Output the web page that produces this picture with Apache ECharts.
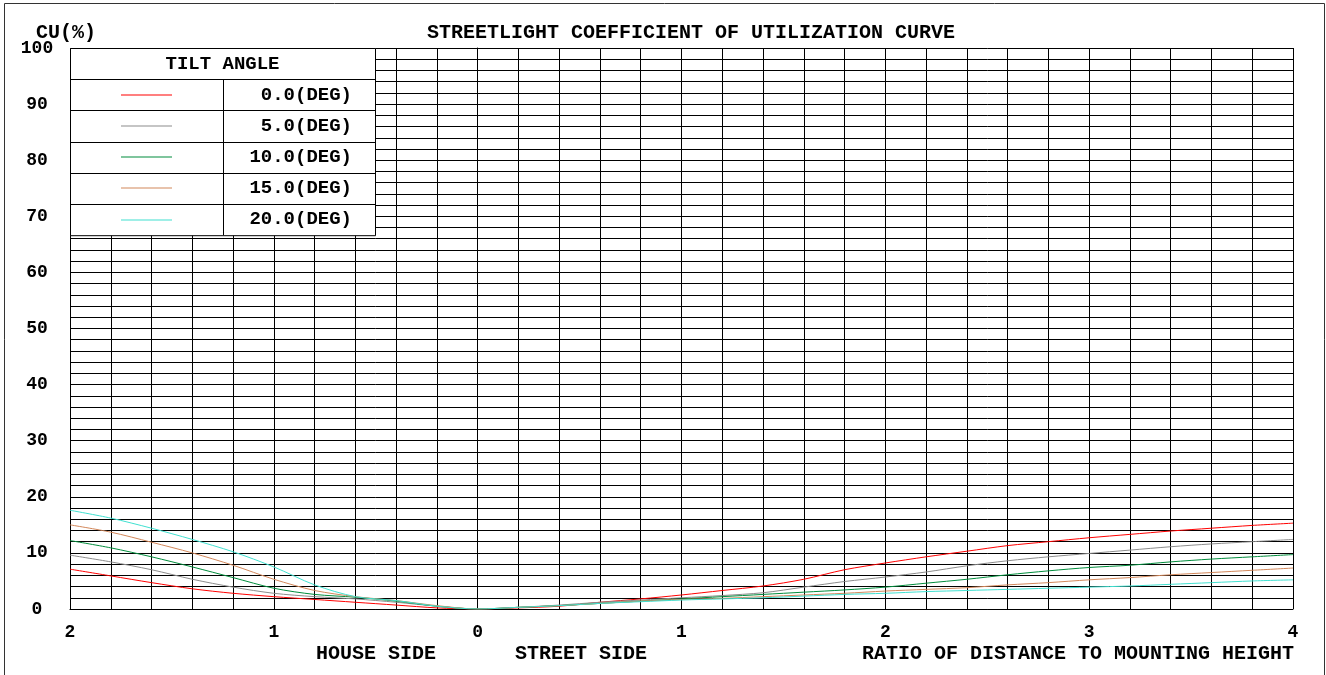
<!DOCTYPE html>
<html>
<head>
<meta charset="utf-8">
<script src="https://cdn.jsdelivr.net/npm/echarts@6/dist/echarts.min.js"></script>
<style>
html,body{margin:0;padding:0;background:#fff;}
#chart{width:1326px;height:675px;}
</style>
</head>
<body>
<div id="chart"></div>
<script>
// distance / mounting height, house side negative
const xs = [-2,-1.8,-1.6,-1.4,-1.2,-1,-0.8,-0.6,-0.4,-0.2,0,0.2,0.4,0.6,0.8,1,1.2,1.4,1.6,1.8,2,2.2,2.4,2.6,2.8,3,3.2,3.4,3.6,3.8,4];
const names = ['0.0(DEG)','5.0(DEG)','10.0(DEG)','15.0(DEG)','20.0(DEG)'];
const colors = ['#ff0000','#8c8c8c','#008c3c','#d2875a','#40e0d0'];
const cu0  = [7.1,5.9,4.7,3.6,2.8,2.2,1.7,1.2,0.7,0.2,0,0.2,0.5,1.2,1.8,2.5,3.3,4.1,5.3,7.0,8.2,9.3,10.3,11.3,12.0,12.7,13.3,13.9,14.4,14.9,15.3];
const cu5  = [9.6,8.4,7.0,5.3,3.9,2.8,2.2,1.8,1.2,0.5,0,0.3,0.7,1.2,1.6,2.0,2.4,2.9,3.9,4.9,5.7,6.6,7.7,8.6,9.3,9.9,10.5,11.1,11.6,12.0,12.4];
const cu10 = [12.2,10.9,9.3,7.5,5.6,3.7,2.6,2.1,1.4,0.5,0,0.3,0.6,1.0,1.4,1.8,2.2,2.6,3.0,3.4,3.9,4.6,5.3,6.1,6.8,7.4,7.8,8.4,8.9,9.3,9.7];
const cu15 = [15.0,13.7,11.9,10.0,7.8,5.3,3.3,2.2,1.5,0.6,0,0.3,0.6,1.0,1.4,1.7,1.9,2.2,2.5,2.8,3.2,3.5,3.8,4.3,4.7,5.2,5.6,6.1,6.5,6.9,7.3];
const cu20 = [17.6,16.2,14.4,12.4,10.2,7.5,4.3,2.2,1.5,0.5,0,0.3,0.6,1.0,1.3,1.6,1.8,2.0,2.3,2.6,2.8,3.1,3.3,3.5,3.7,3.9,4.1,4.4,4.7,5.0,5.2];
const cuList = [cu0,cu5,cu10,cu15,cu20];
const yTicks = [0,10,20,30,40,50,60,70,80,90,100];

;(function(W){
    const FONT = '"Liberation Mono","DejaVu Sans Mono",monospace';
    const chart = echarts.init(document.getElementById('chart'));
    let series = cuList.map((arr,i)=>({
        name: names[i],
        type: 'line',
        data: xs.map((x,j)=>[x,arr[j]]),
        smooth: 0.3,
        symbol: 'none',
        lineStyle: {color: colors[i], width: 1},
        z: 3
    }));
    // legend table
    let tb = {x0: 70, x1: 375, xm: 223, y0: 48, rowH: 31.2};
    let g = [];
    let tblH = tb.rowH * 6;
    g.push({type:'rect', z:100, shape:{x:tb.x0+0.5, y:tb.y0+0.5, width:tb.x1-tb.x0, height:tblH}, style:{fill:'#fff', stroke:'#000', lineWidth:1}});
    g.push({type:'line', z:101, shape:{x1:tb.xm+0.5, y1:tb.y0+tb.rowH, x2:tb.xm+0.5, y2:tb.y0+tblH}, style:{stroke:'#000', lineWidth:1}});
    g.push({type:'text', z:101, x:(tb.x0+tb.x1)/2, y:tb.y0+tb.rowH/2+1, style:{text:'TILT ANGLE', font:'bold 19px '+FONT, fill:'#000', align:'center', verticalAlign:'middle'}});
    names.forEach((n,i)=>{
        let y = tb.y0 + tb.rowH*(i+1);
        g.push({type:'line', z:101, shape:{x1:tb.x0, y1:Math.round(y)+0.5, x2:tb.x1, y2:Math.round(y)+0.5}, style:{stroke:'#000', lineWidth:1}});
        g.push({type:'line', z:102, shape:{x1:121, y1:Math.round(y+tb.rowH/2), x2:172, y2:Math.round(y+tb.rowH/2)}, style:{stroke:colors[i], lineWidth:1.2}});
        g.push({type:'text', z:101, x:352, y:y+tb.rowH/2, style:{text:n, font:'bold 19px '+FONT, fill:'#000', align:'right', verticalAlign:'middle'}});
    });
    // captions
    let cap = (t,x,y,al)=>({type:'text', z:101, x:x, y:y, style:{text:t, font:'bold 20px '+FONT, fill:'#000', align:al, verticalAlign:'middle'}});
    g.push(cap('STREETLIGHT COEFFICIENT OF UTILIZATION CURVE',691,33,'center'));
    g.push(cap('CU(%)',66,33,'center'));
    g.push(cap('HOUSE SIDE',436,654,'right'));
    g.push(cap('STREET SIDE',515,654,'left'));
    g.push(cap('RATIO OF DISTANCE TO MOUNTING HEIGHT',1294,654,'right'));
    // frame
    g.push({type:'rect', z:0, shape:{x:4.5, y:3.5, width:1320, height:690}, style:{fill:null, stroke:'#333', lineWidth:1}});

    let isInt = v=>Math.abs(v-Math.round(v))<1e-6;
    let option = {
        backgroundColor: '#fff',
        animation: false,
        grid: {left: 70, right: 33, top: 48, bottom: 66},
        xAxis: {
            type: 'value', min: -2, max: 4, interval: 0.2,
            axisLine: {lineStyle: {color: '#000'}},
            axisTick: {show: false},
            axisLabel: {
                margin: 14, color: '#000', fontFamily: FONT, fontWeight: 'bold', fontSize: 18,
                showMinLabel: true, showMaxLabel: true,
                formatter: v=>isInt(v) ? String(Math.abs(Math.round(v))) : ''
            },
            splitLine: {show: true, lineStyle: {color: '#000', width: 1}}
        },
        yAxis: {
            type: 'value', min: 0, max: 100, interval: 2,
            axisLine: {show: true, lineStyle: {color: '#000'}},
            axisTick: {show: false},
            axisLabel: {
                margin: 33, align: 'center', color: '#000', fontFamily: FONT, fontWeight: 'bold', fontSize: 18,
                formatter: v=>yTicks.indexOf(Math.round(v))>-1 && isInt(v) && Math.round(v)%10===0 ? String(Math.round(v)) : ''
            },
            splitLine: {show: true, lineStyle: {color: '#000', width: 1}}
        },
        series: series,
        graphic: g
    };
    chart.setOption(option);
    W.chart = chart;
})(this);
</script>
</body>
</html>
